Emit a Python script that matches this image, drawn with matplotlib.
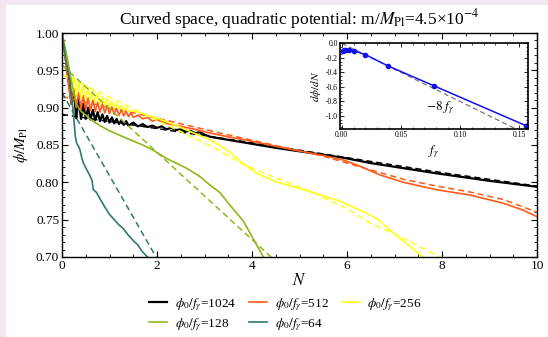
import matplotlib
matplotlib.use('Agg')
import matplotlib.pyplot as plt
from matplotlib.patches import Rectangle
from matplotlib.ticker import MultipleLocator, FormatStrFormatter

plt.rcParams['font.family'] = ['Liberation Serif', 'DejaVu Serif']
plt.rcParams['mathtext.fontset'] = 'stix'

# ---------------- data ----------------
N_1024 = [0, 0.05, 0.10, 0.15, 0.20, 0.25, 0.30, 0.35, 0.40, 0.45, 0.50, 0.55, 0.60, 0.65, 0.70,
          0.75, 0.80, 0.85, 0.90, 0.95, 1.00, 1.05, 1.10, 1.15, 1.20, 1.25, 1.30, 1.35, 1.40,
          1.5, 1.6, 1.7, 1.8, 1.9, 2.0, 2.1, 2.2, 2.3, 2.4, 2.5, 2.6, 2.7, 2.8, 2.9, 3.0, 3.12,
          4.52, 5.92, 6.48, 7.89, 9.0, 10.0]
phi_1024 = [1.0, 0.98, 0.955, 0.93, 0.905, 0.922, 0.886, 0.912, 0.885, 0.905, 0.885, 0.900, 0.884, 0.897, 0.883,
            0.894, 0.882, 0.891, 0.881, 0.889, 0.880, 0.887, 0.879, 0.885, 0.878, 0.883, 0.877, 0.882, 0.876,
            0.880, 0.875, 0.878, 0.874, 0.876, 0.873, 0.875, 0.871, 0.873, 0.870, 0.871, 0.868, 0.869, 0.866, 0.867, 0.864, 0.861,
            0.846, 0.833, 0.826, 0.812, 0.802, 0.794]
N_1024d = [0, 2, 4, 6, 8, 10]
phi_1024d = [0.891, 0.872, 0.853, 0.833, 0.813, 0.795]

N_512 = [0, 0.05, 0.10, 0.15, 0.20, 0.25, 0.30, 0.35, 0.40, 0.45, 0.50, 0.55, 0.60, 0.65, 0.70,
         0.75, 0.80, 0.85, 0.90, 0.95, 1.00, 1.05, 1.10, 1.15, 1.20, 1.25, 1.30, 1.35, 1.40,
         1.45, 1.5, 1.6, 1.7, 1.8, 1.9, 2.0, 2.2, 2.5, 2.8, 3.12, 3.5, 4.0, 4.52, 5.0, 5.5, 5.92,
         6.3, 6.69, 7.19, 7.89, 8.59, 9.29, 9.7, 10.0]
phi_512 = [1.0, 0.975, 0.95, 0.925, 0.905, 0.925, 0.900, 0.920, 0.898, 0.916, 0.897, 0.913, 0.896, 0.910, 0.895,
           0.907, 0.894, 0.905, 0.893, 0.903, 0.892, 0.901, 0.891, 0.899, 0.890, 0.897, 0.889, 0.895, 0.888,
           0.893, 0.887, 0.890, 0.885, 0.887, 0.882, 0.884, 0.879, 0.875, 0.871, 0.866, 0.861, 0.855, 0.848, 0.842, 0.836, 0.830,
           0.821, 0.810, 0.800, 0.790, 0.783, 0.772, 0.763, 0.754]
N_512d = [0, 1, 2, 3.33, 4.52, 5.5, 6.48, 7.19, 7.89, 8.59, 9.29, 10]
phi_512d = [0.915, 0.900, 0.886, 0.866, 0.849, 0.835, 0.817, 0.804, 0.795, 0.787, 0.777, 0.760]

N_256 = [0, 0.05, 0.10, 0.15, 0.20, 0.25, 0.30, 0.35, 0.40, 0.45, 0.50, 0.55, 0.60, 0.65, 0.70,
         0.75, 0.80, 0.85, 0.90, 0.95, 1.00, 1.05, 1.10, 1.15, 1.20, 1.25, 1.30, 1.35, 1.40,
         1.5, 1.7, 2.0, 2.3, 2.7, 3.12, 3.5, 3.8, 4.1, 4.5, 5.2, 5.8, 6.27, 6.5, 6.7, 7.0, 7.33, 7.6]
phi_256 = [1.0, 0.985, 0.965, 0.945, 0.925, 0.942, 0.916, 0.937, 0.913, 0.932, 0.911, 0.927, 0.909, 0.923, 0.907,
           0.919, 0.905, 0.915, 0.903, 0.912, 0.901, 0.909, 0.899, 0.906, 0.898, 0.903, 0.896, 0.900, 0.895,
           0.896, 0.892, 0.886, 0.879, 0.868, 0.857, 0.842, 0.826, 0.812, 0.801, 0.788, 0.776, 0.763, 0.756, 0.748, 0.731, 0.714, 0.70]
N_256d = [0, 1, 2, 3.12, 3.82, 4.5, 5.22, 6.0, 6.5, 7.0, 7.95]
phi_256d = [0.944, 0.914, 0.883, 0.849, 0.824, 0.806, 0.788, 0.765, 0.745, 0.731, 0.70]

N_128 = [0, 0.1, 0.2, 0.3, 0.4, 0.5, 0.6, 0.8, 1.0, 1.36, 1.7, 1.92, 2.2, 2.62, 2.9, 3.12, 3.33,
         3.54, 3.7, 3.82, 4.03, 4.24]
phi_128 = [1.0, 0.97, 0.935, 0.905, 0.895, 0.89, 0.884, 0.876, 0.869, 0.859, 0.85, 0.843, 0.832, 0.819, 0.808, 0.796, 0.786,
           0.769, 0.757, 0.748, 0.724, 0.70]
N_128d = [0, 4.4]
phi_128d = [0.957, 0.70]

N_64 = [0, 0.08, 0.17, 0.24, 0.28, 0.31, 0.35, 0.38, 0.42, 0.45, 0.52, 0.58, 0.63, 0.66, 0.72, 0.8,
        0.9, 1.0, 1.1, 1.2, 1.29, 1.4, 1.5, 1.6, 1.68, 1.8]
phi_64 = [1.0, 0.965, 0.935, 0.892, 0.862, 0.852, 0.848, 0.843, 0.832, 0.826, 0.817, 0.810, 0.803, 0.79, 0.787, 0.778,
          0.767, 0.757, 0.750, 0.743, 0.738, 0.729, 0.722, 0.716, 0.708, 0.70]
N_64d = [0, 1.98]
phi_64d = [0.92, 0.70]

f_gamma = [0.001, 0.002, 0.004, 0.006, 0.01, 0.02, 0.039, 0.078, 0.156]
dphi_dN = [-0.10, -0.095, -0.09, -0.088, -0.10, -0.155, -0.31, -0.585, -1.135]
f_line = [0.0, 0.16]
slope = -8

series = [
    ('1024', N_1024, phi_1024, N_1024d, phi_1024d, '#000000', 1.6),
    ('512', N_512, phi_512, N_512d, phi_512d, '#FF5A1A', 1.2),
    ('256', N_256, phi_256, N_256d, phi_256d, '#FFFF1A', 1.2),
    ('128', N_128, phi_128, N_128d, phi_128d, '#8DB81A', 1.2),
    ('64', N_64, phi_64, N_64d, phi_64d, '#2E7A6E', 1.2),
]

# ---------------- figure ----------------
fig = plt.figure(figsize=(5.48, 3.37), dpi=100)
fig.patch.set_facecolor('#F2E6F0')
bg = Rectangle((6/548, 0), 1 - 6/548, 1 - 5/337, transform=fig.transFigure,
               facecolor='white', edgecolor='none', zorder=-10)
fig.add_artist(bg)

ax = fig.add_axes([62/548, 1 - 257/337, 475/548, 224/337])
ax.set_zorder(1)
handles = {}
for name, Ns, ph, Nd, pd, col, lw in series:
    h, = ax.plot(Ns, ph, color=col, lw=lw, label=r'$\phi_0/f_\gamma$=' + name)
    ax.plot(Nd, pd, color=col, lw=1.1, ls=(0, (4, 2.5)))
    handles[name] = h

ax.set_xlim(0, 10)
ax.set_ylim(0.70, 1.00)
ax.xaxis.set_major_locator(MultipleLocator(2))
ax.xaxis.set_minor_locator(MultipleLocator(0.5))
ax.yaxis.set_major_locator(MultipleLocator(0.05))
ax.yaxis.set_minor_locator(MultipleLocator(0.01))
ax.yaxis.set_major_formatter(FormatStrFormatter('%.2f'))
ax.tick_params(which='both', direction='in', top=True, right=True, labelsize=9.5, pad=2)
ax.tick_params(which='major', length=4, width=0.8)
ax.tick_params(which='minor', length=2, width=0.6)
for s in ax.spines.values():
    s.set_linewidth(1.0)
ax.set_xlabel(r'$N$', fontsize=12, labelpad=1)
ax.set_ylabel(r'$\phi/M_{\rm Pl}$', fontsize=10.5, labelpad=4)
ax.set_title(r'Curved space, quadratic potential: m/$M_{\rm Pl}$=4.5×10$^{-4}$', fontsize=12.5, pad=6)

order = ['1024', '128', '512', '64', '256']
leg = fig.legend([handles[k] for k in order], [handles[k].get_label() for k in order],
                 loc='upper left', bbox_to_anchor=(137/548, 1 - 284/337), ncol=3, frameon=False,
                 fontsize=9.5, handlelength=1.4, handletextpad=0.55, columnspacing=1.0, labelspacing=0.25)

# ---------------- inset ----------------
ins = fig.add_axes([340/548, 1 - 129/337, 188/548, 86/337])
ins.set_zorder(2)
ins.set_facecolor('white')
ins.plot(f_line, [slope * v for v in f_line], color='#777777', lw=0.9, ls=(0, (4, 2.5)))
ins.plot(f_gamma, dphi_dN, color='#1010F0', lw=1.1, marker='o', ms=3)
ins.set_xlim(-0.0015, 0.1576)
ins.set_ylim(-1.18, 0.005)
ins.xaxis.set_major_locator(MultipleLocator(0.05))
ins.xaxis.set_minor_locator(MultipleLocator(0.01))
ins.yaxis.set_major_locator(MultipleLocator(0.2))
ins.yaxis.set_minor_locator(MultipleLocator(0.05))
ins.xaxis.set_major_formatter(FormatStrFormatter('%.2f'))
ins.yaxis.set_major_formatter(FormatStrFormatter('%.1f'))
ins.tick_params(which='both', direction='in', top=True, right=True, labelsize=5.5, pad=1.5)
ins.tick_params(which='major', length=3, width=0.6)
ins.tick_params(which='minor', length=1.5, width=0.5)
for s in ins.spines.values():
    s.set_linewidth(1.2)
ins.text(0.071, -0.89, r'$-8\ f_\gamma$', fontsize=9.5, va='center', ha='left')
ins.set_xlabel(r'$f_\gamma$', fontsize=9, labelpad=3)
ins.set_ylabel(r'$d\phi/dN$', fontsize=8, labelpad=2)

fig.savefig('out.png', dpi=100, facecolor=fig.get_facecolor())
